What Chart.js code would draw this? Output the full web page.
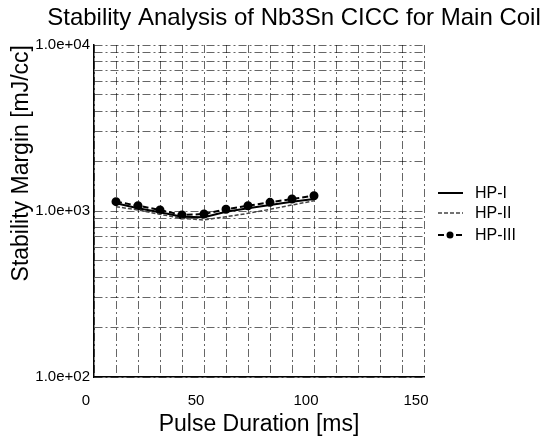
<!DOCTYPE html>
<html>
<head>
<meta charset="utf-8">
<script src="https://cdn.jsdelivr.net/npm/chart.js@4/dist/chart.umd.min.js"></script>
<style>
  html, body { margin: 0; padding: 0; background: #fff; }
  #wrap { width: 552px; height: 439px; }
</style>
</head>
<body>
<div id="wrap"><canvas id="marginChart" width="552" height="439"></canvas></div>
<script>
/* data */
const pulseDuration = [10, 20, 30, 40, 50, 60, 70, 80, 90, 100];
const hp1 = [1112, 1038, 982, 924, 916, 990, 1038, 1087, 1138, 1181];
const hp2 = [1062, 1014, 955, 904, 883, 924, 968, 1024, 1087, 1153];
const hp3 = [1138, 1076, 1014, 946, 959, 1024, 1076, 1128, 1181, 1236];
const seriesNames = ['HP-I', 'HP-II', 'HP-III'];

const yGridValues = [100, 200, 300, 400, 500, 600, 700, 800, 900,
                     1000, 2000, 3000, 4000, 5000, 6000, 7000, 8000, 9000, 10000];
const yLabelValues = [100, 1000, 10000];
const xLabelValues = [0, 50, 100, 150];

const chartTitle = 'Stability Analysis of Nb3Sn CICC for Main Coil';
const FONT = '"Liberation Sans", Arial, sans-serif';

function pts(arr) {
  return pulseDuration.map((x, i) => ({ x: x, y: arr[i] }));
}

function expLabel(v) {
  const e = Math.round(Math.log10(v));
  return '1.0e+' + String(e).padStart(2, '0');
}

// title + right-hand legend, drawn on the canvas
const extraText = {
  id: 'extraText',
  afterDraw(chart) {
    const ctx = chart.ctx;
    ctx.save();
    ctx.fillStyle = '#000';
    ctx.font = '24px ' + FONT;
    ctx.textAlign = 'center';
    ctx.textBaseline = 'middle';
    ctx.fillText(chartTitle, 294, 18);

    const rows = [193, 213, 235];
    ctx.font = '16px ' + FONT;
    ctx.textAlign = 'left';
    chart.data.datasets.forEach((ds, i) => {
      const y = rows[i];
      ctx.save();
      ctx.strokeStyle = ds.borderColor;
      ctx.lineWidth = ds.borderWidth;
      ctx.setLineDash(ds.borderDash || []);
      ctx.beginPath();
      ctx.moveTo(438, y);
      ctx.lineTo(463, y);
      ctx.stroke();
      if (ds.pointRadius > 0) {
        ctx.setLineDash([]);
        ctx.fillStyle = ds.pointBackgroundColor;
        ctx.beginPath();
        ctx.arc(450, y, ds.pointRadius, 0, Math.PI * 2);
        ctx.fill();
      }
      ctx.restore();
      ctx.fillText(ds.label, 475, y + 1);
    });
    ctx.restore();
  }
};

const gridColor = 'rgba(0,0,0,0.6)';

new Chart(document.getElementById('marginChart'), {
  type: 'line',
  data: {
    datasets: [
      {
        label: seriesNames[0],
        data: pts(hp1),
        borderColor: '#000',
        borderWidth: 2,
        pointRadius: 0,
        tension: 0
      },
      {
        label: seriesNames[1],
        data: pts(hp2),
        borderColor: '#444',
        borderWidth: 1.5,
        borderDash: [4, 2],
        pointRadius: 0,
        tension: 0
      },
      {
        label: seriesNames[2],
        data: pts(hp3),
        borderColor: '#000',
        borderWidth: 2,
        borderDash: [6, 3],
        pointRadius: 3.5,
        pointBackgroundColor: '#000',
        pointBorderColor: '#000',
        tension: 0
      }
    ]
  },
  options: {
    responsive: false,
    animation: false,
    devicePixelRatio: 1,
    layout: { padding: { left: 0, right: 128, top: 45, bottom: 0 } },
    plugins: {
      legend: { display: false },
      title: { display: false },
      tooltip: { enabled: false }
    },
    scales: {
      x: {
        type: 'linear',
        min: 0,
        max: 150,
        afterFit: s => { s.height = 62; },
        grid: { color: gridColor, lineWidth: 1, drawTicks: false },
        border: { display: true, color: '#000', width: 1.5, dash: [8, 3, 2, 3] },
        ticks: {
          stepSize: 10,
          autoSkip: false,
          maxRotation: 0,
          padding: 15,
          labelOffset: -8,
          color: '#000',
          font: { size: 15, family: FONT },
          callback: v => xLabelValues.includes(v) ? String(v) : ''
        },
        title: {
          display: true,
          text: 'Pulse Duration [ms]',
          color: '#000',
          font: { size: 23, family: FONT },
          padding: { top: 1, bottom: 1 }
        }
      },
      y: {
        type: 'logarithmic',
        min: 100,
        max: 10000,
        afterFit: s => { s.width = 94; },
        afterBuildTicks: s => { s.ticks = yGridValues.map(v => ({ value: v })); },
        grid: { color: gridColor, lineWidth: 1, drawTicks: false },
        border: { display: true, color: '#000', width: 1.5, dash: [8, 3, 2, 3] },
        ticks: {
          autoSkip: false,
          padding: 4,
          color: '#000',
          font: { size: 15, family: FONT },
          callback: v => yLabelValues.includes(v) ? expLabel(v) : ''
        },
        title: {
          display: true,
          text: 'Stability Margin [mJ/cc]',
          align: 'end',
          color: '#000',
          font: { size: 23, family: FONT },
          padding: { top: 8, bottom: 2 }
        }
      }
    }
  },
  plugins: [extraText]
});
</script>
</body>
</html>
